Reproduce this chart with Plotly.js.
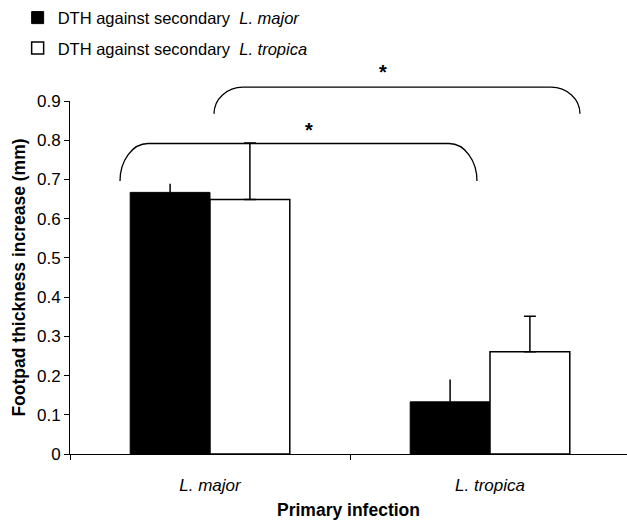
<!DOCTYPE html>
<html>
<head>
<meta charset="utf-8">
<script src="https://cdn.plot.ly/plotly-3.0.1.min.js"></script>
<style>html,body{margin:0;padding:0;background:#fff;}#chart{width:627px;height:520px;}</style>
</head>
<body>
<div id="chart"></div>
<script>
// Data
var categories = ['<i>L. major</i>', '<i>L. tropica</i>'];
var seriesNames = ['DTH against secondary  <i>L. major</i>', 'DTH against secondary  <i>L. tropica</i>'];
var dthMajor = [0.667, 0.133];
var dthMajorErr = [0.022, 0.057];
var dthTropica = [0.649, 0.261];
var dthTropicaErr = [0.144, 0.090];
var yTickVals = [0, 0.1, 0.2, 0.3, 0.4, 0.5, 0.6, 0.7, 0.8, 0.9];
var yTickText = ['0', '0.1', '0.2', '0.3', '0.4', '0.5', '0.6', '0.7', '0.8', '0.9'];
var sigLabels = ['*', '*'];

var FONT = 'Liberation Sans, Arial, sans-serif';

var traces = [
  {
    type: 'bar', name: seriesNames[0], x: categories, y: dthMajor,
    legendgroup: 'a',
    marker: {color: '#000000', line: {color: '#000000', width: 1}},
    error_y: {type: 'data', array: dthMajorErr, arrayminus: [0, 0], symmetric: false,
              color: '#000000', thickness: 1.5, width: 0}
  },
  {
    type: 'bar', name: seriesNames[1], x: categories, y: dthTropica,
    legendgroup: 'b',
    marker: {color: '#ffffff', line: {color: '#000000', width: 1.5}},
    error_y: {type: 'data', array: dthTropicaErr, arrayminus: [0, 0], symmetric: false,
              color: '#000000', thickness: 1.5, width: 6}
  }
];

// plot area: left 70px, right 627px, top 97px, bottom 454px
var L = 70, R = 627, T = 97, B = 454;
function px(x) { return (x - L) / (R - L); }
function py(y) { return (B - y) / (B - T); }

function bracket(x0, x1, yTop, yBot, rx) {
  var X0 = px(x0), X1 = px(x1), YT = py(yTop), YB = py(yBot);
  var RX = rx / (R - L);
  var k = 0.5523;
  var ry = YT - YB;
  return 'M' + X0 + ',' + YB +
    ' C' + X0 + ',' + (YB + k * ry) + ' ' + (X0 + RX - k * RX) + ',' + YT + ' ' + (X0 + RX) + ',' + YT +
    ' L' + (X1 - RX) + ',' + YT +
    ' C' + (X1 - RX + k * RX) + ',' + YT + ' ' + X1 + ',' + (YB + k * ry) + ' ' + X1 + ',' + YB;
}

var layout = {
  width: 627, height: 520,
  margin: {l: L, r: 0, t: T, b: 520 - B},
  paper_bgcolor: '#ffffff', plot_bgcolor: '#ffffff',
  font: {family: FONT, color: '#000000', size: 16},
  barmode: 'group', bargap: 0.43, bargroupgap: 0,
  showlegend: true,
  legend: {x: -0.094, y: 1.285, xanchor: 'left', yanchor: 'top', traceorder: 'grouped',
           tracegroupgap: 6, font: {family: FONT, size: 16.5, color: '#000000'},
           bgcolor: 'rgba(0,0,0,0)', itemwidth: 30},
  xaxis: {
    range: [-0.5, -0.5 + (R - L) / 280],
    showline: true, linecolor: '#000000', linewidth: 1,
    ticks: 'outside', tickson: 'boundaries', ticklen: 5, tickcolor: '#000000',
    showgrid: false, zeroline: false,
    tickfont: {family: FONT, size: 17},
    ticklabelstandoff: 16,
    title: {text: '<b>Primary infection</b>', font: {family: FONT, size: 17.5}, standoff: 10}
  },
  yaxis: {
    range: [0, 0.9], tickvals: yTickVals, ticktext: yTickText,
    showline: true, linecolor: '#000000', linewidth: 1,
    ticks: 'outside', ticklen: 5, tickcolor: '#000000',
    showgrid: false, zeroline: false,
    tickfont: {family: FONT, size: 17},
    title: {text: '<b>Footpad thickness increase (mm)</b>', font: {family: FONT, size: 17.5}, standoff: 6}
  },
  shapes: [
    {type: 'path', xref: 'paper', yref: 'paper', path: bracket(120, 477, 140, 178, 28),
     line: {color: '#000000', width: 1.3}},
    {type: 'path', xref: 'paper', yref: 'paper', path: bracket(214, 580, 83, 110, 29),
     line: {color: '#000000', width: 1.3}}
  ],
  annotations: [
    {xref: 'paper', yref: 'paper', x: px(309), y: py(113), text: '<b>' + sigLabels[0] + '</b>',
     showarrow: false, font: {family: FONT, size: 20}},
    {xref: 'paper', yref: 'paper', x: px(383), y: py(55), text: '<b>' + sigLabels[1] + '</b>',
     showarrow: false, font: {family: FONT, size: 20}}
  ]
};

Plotly.newPlot('chart', traces, layout, {displayModeBar: false, staticPlot: true});
</script>
</body>
</html>
